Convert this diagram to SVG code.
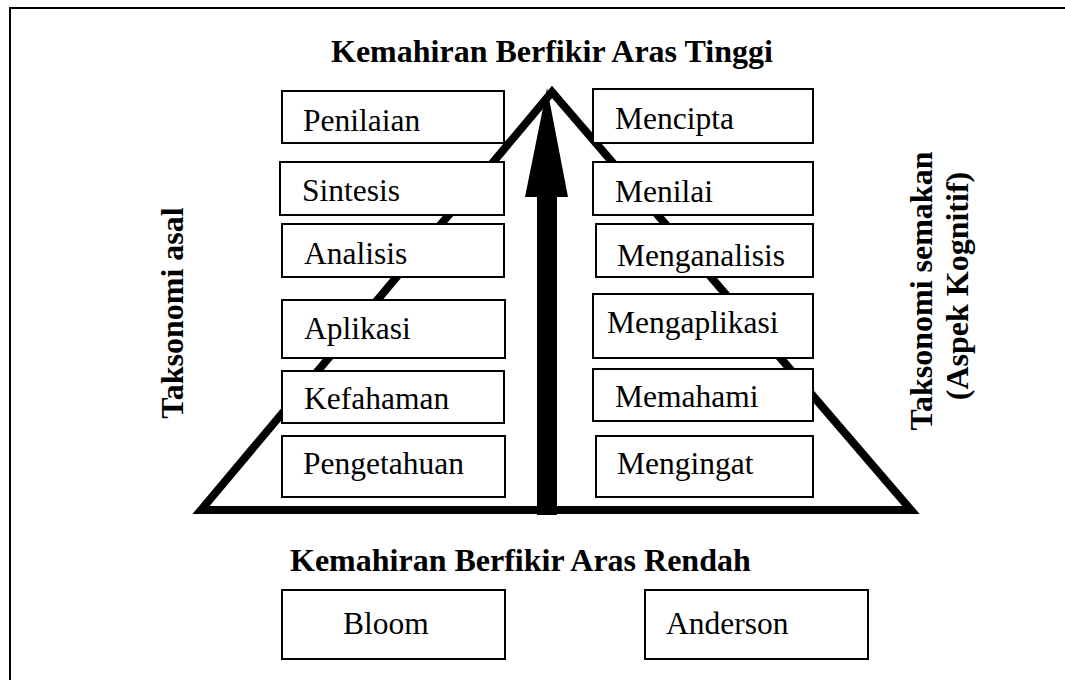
<svg xmlns="http://www.w3.org/2000/svg" width="1065" height="680" viewBox="0 0 1065 680">
<style>
.bx{fill:#fff;stroke:#000;stroke-width:2}
.t{font-family:"Liberation Serif","Times New Roman",serif;font-size:31.5px;fill:#000}
.b{font-family:"Liberation Serif","Times New Roman",serif;font-size:32px;font-weight:bold;fill:#000}
</style>
<rect x="0" y="0" width="1065" height="680" fill="#fff"/>
<rect x="10" y="8" width="1075" height="700" fill="none" stroke="#000" stroke-width="2"/>
<g id="connectors">
<path d="M201,510 L552,92 L911,510 Z" fill="none" stroke="#000" stroke-width="8" stroke-linejoin="miter"/>
</g>
<g id="left-boxes">
<g id="n-penilaian"><rect class="bx" x="282" y="91" width="222" height="52"/><text class="t" x="303" y="131">Penilaian</text></g>
<g id="n-sintesis"><rect class="bx" x="280" y="162" width="224" height="53"/><text class="t" x="302" y="201">Sintesis</text></g>
<g id="n-analisis"><rect class="bx" x="282" y="224" width="222" height="53"/><text class="t" x="304" y="264">Analisis</text></g>
<g id="n-aplikasi"><rect class="bx" x="282" y="300" width="223" height="58"/><text class="t" x="304" y="339">Aplikasi</text></g>
<g id="n-kefahaman"><rect class="bx" x="282" y="371" width="222" height="52"/><text class="t" x="304" y="409">Kefahaman</text></g>
<g id="n-pengetahuan"><rect class="bx" x="282" y="436" width="223" height="61"/><text class="t" x="303" y="474">Pengetahuan</text></g>
</g>
<g id="right-boxes">
<g id="n-mencipta"><rect class="bx" x="593" y="89" width="220" height="54"/><text class="t" x="615" y="129">Mencipta</text></g>
<g id="n-menilai"><rect class="bx" x="593" y="162" width="220" height="53"/><text class="t" x="615" y="202">Menilai</text></g>
<g id="n-menganalisis"><rect class="bx" x="596" y="224" width="217" height="53"/><text class="t" x="617" y="266">Menganalisis</text></g>
<g id="n-mengaplikasi"><rect class="bx" x="593" y="294" width="220" height="64"/><text class="t" x="607" y="333">Mengaplikasi</text></g>
<g id="n-memahami"><rect class="bx" x="593" y="369" width="220" height="52"/><text class="t" x="615" y="407">Memahami</text></g>
<g id="n-mengingat"><rect class="bx" x="596" y="436" width="217" height="61"/><text class="t" x="617" y="474">Mengingat</text></g>
</g>
<g id="arrow">
<rect x="537" y="195" width="20" height="320" fill="#000"/>
<polygon points="525,197 547,88 568,197" fill="#000"/>
</g>
<g id="titles">
<text class="b" x="331" y="62">Kemahiran Berfikir Aras Tinggi</text>
<text class="b" x="290" y="571">Kemahiran Berfikir Aras Rendah</text>
</g>
<g id="side-labels">
<text class="b" transform="translate(183,313) rotate(-90)" text-anchor="middle" x="0" y="0">Taksonomi asal</text>
<text class="b" transform="translate(932,291) rotate(-90)" text-anchor="middle"><tspan x="0" y="0">Taksonomi semakan</tspan><tspan x="5" y="36">(Aspek Kognitif)</tspan></text>
</g>
<g id="n-bloom"><rect class="bx" x="282" y="590" width="223" height="69"/><text class="t" x="343" y="634">Bloom</text></g>
<g id="n-anderson"><rect class="bx" x="645" y="590" width="223" height="69"/><text class="t" x="666" y="634">Anderson</text></g>
</svg>
